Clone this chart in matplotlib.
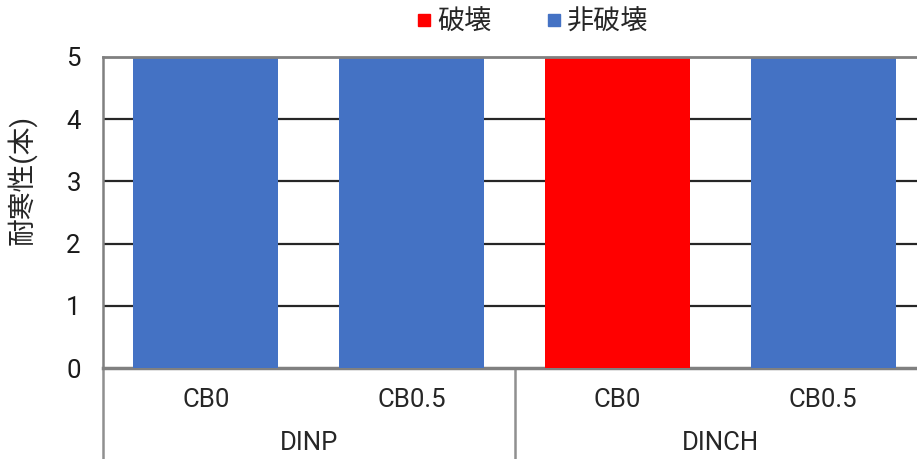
import matplotlib
matplotlib.use("Agg")
import matplotlib.pyplot as plt
from matplotlib.lines import Line2D
import matplotlib.transforms as mtransforms

plt.rcParams['font.family'] = ['Roboto', 'Noto Sans CJK JP', 'DejaVu Sans']

subcats = ["CB0", "CB0.5", "CB0", "CB0.5"]
groups = ["DINP", "DINCH"]
broken = [0, 0, 5, 0]
unbroken = [5, 5, 0, 5]
yticks = [0, 1, 2, 3, 4, 5]
ylabel = "耐寒性(本)"
legend_labels = ["破壊", "非破壊"]

c_red = "#FF0000"
c_blue = "#4472C4"
fs = 18.5

fig = plt.figure(figsize=(9.17, 4.59), dpi=100)
ax = fig.add_axes([103/917, 1-368/459, 823/917, 311/459])

x = list(range(len(subcats)))
ax.bar(x, broken, width=0.705, color=c_red, zorder=3)
ax.bar(x, unbroken, bottom=broken, width=0.705, color=c_blue, zorder=3)

ax.set_xlim(-0.5, 3.5)
ax.set_ylim(0, 5)
ax.set_yticks(yticks)
for v in yticks[1:-1]:
    ax.axhline(v, color="#262626", lw=1.6, zorder=1)
ax.axhline(5, color="#808080", lw=2, zorder=4, clip_on=False)

for s in ["top", "right"]:
    ax.spines[s].set_visible(False)
ax.spines["bottom"].set_color("#808080")
ax.spines["bottom"].set_linewidth(2.5)
ax.spines["left"].set_color("#808080")
ax.spines["left"].set_linewidth(1.8)
ax.set_xticks([])
ax.tick_params(axis="y", length=0, pad=16, labelsize=fs, labelcolor="#1a1a1a")

trans = mtransforms.blended_transform_factory(ax.transData, ax.transAxes)
for i, lab in enumerate(subcats):
    ax.text(i, -0.103, lab, transform=trans, ha="center", va="center",
            fontsize=fs, color="#262626")
for j, g in enumerate(groups):
    ax.text(2*j + 0.5, -0.241, g, transform=trans, ha="center", va="center",
            fontsize=fs, color="#262626")
for xb in [-0.5, 1.5]:
    ax.plot([xb, xb], [0, -0.3], transform=trans, color="#909090", lw=1.8, clip_on=False)

fig.text(22/917, 1-180/459, ylabel, rotation=90, ha="center", va="center",
         fontsize=20, color="#262626")

handles = [Line2D([], [], marker="s", ls="", color=c, markersize=8.8) for c in (c_red, c_blue)]
fig.legend(handles, legend_labels, loc="center", bbox_to_anchor=(532/917, 1-22/459),
           ncol=2, frameon=False, fontsize=19.5, handlelength=0.6, handletextpad=0.2,
           columnspacing=2.0, labelcolor="#262626")

fig.savefig("out.png", dpi=100)
